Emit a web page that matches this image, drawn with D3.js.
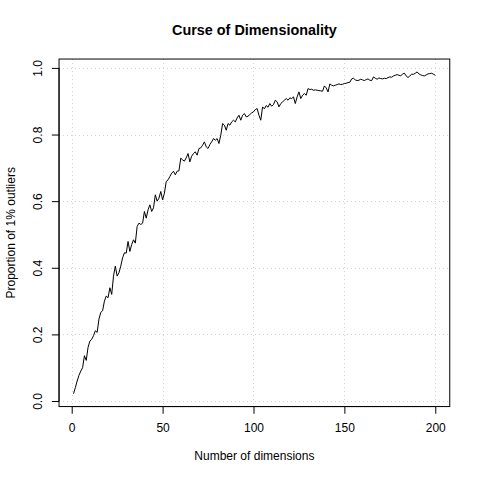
<!DOCTYPE html>
<html>
<head>
<meta charset="utf-8">
<script src="https://cdn.jsdelivr.net/npm/d3@7/dist/d3.min.js"></script>
<style>
  html, body { margin: 0; padding: 0; background: #fff; }
  svg text { font-family: "Liberation Sans", Arial, Helvetica, sans-serif; fill: #000; }
</style>
</head>
<body>
<svg id="chart" width="480" height="480"></svg>
<script>
// ---- data ----
const titleText = "Curse of Dimensionality";
const xLabel = "Number of dimensions";
const yLabel = "Proportion of 1% outliers";
const xTicks = [0, 50, 100, 150, 200];
const yTicks = [0.0, 0.2, 0.4, 0.6, 0.8, 1.0];
const yTickLabels = ["0.0", "0.2", "0.4", "0.6", "0.8", "1.0"];
const proportion = [
  0.022, 0.040, 0.060, 0.077, 0.090, 0.100, 0.136, 0.122, 0.161, 0.180,
  0.185, 0.196, 0.211, 0.206, 0.246, 0.266, 0.271, 0.300, 0.315, 0.310,
  0.340, 0.320, 0.375, 0.405, 0.375, 0.385, 0.405, 0.430, 0.445, 0.444,
  0.479, 0.449, 0.470, 0.484, 0.474, 0.524, 0.534, 0.530, 0.534, 0.569,
  0.549, 0.574, 0.589, 0.569, 0.580, 0.619, 0.600, 0.609, 0.629, 0.604,
  0.624, 0.659, 0.664, 0.674, 0.684, 0.690, 0.679, 0.690, 0.691, 0.729,
  0.724, 0.720, 0.730, 0.743, 0.718, 0.735, 0.743, 0.748, 0.738, 0.758,
  0.760, 0.768, 0.778, 0.763, 0.758, 0.770, 0.778, 0.788, 0.783, 0.788,
  0.773, 0.798, 0.833, 0.828, 0.813, 0.833, 0.828, 0.838, 0.843, 0.838,
  0.850, 0.858, 0.843, 0.858, 0.863, 0.853, 0.855, 0.860, 0.865, 0.868,
  0.875, 0.878, 0.858, 0.843, 0.883, 0.877, 0.887, 0.882, 0.893, 0.885,
  0.890, 0.903, 0.898, 0.883, 0.893, 0.898, 0.903, 0.908, 0.903, 0.910,
  0.908, 0.913, 0.893, 0.913, 0.928, 0.908, 0.918, 0.923, 0.918, 0.938,
  0.935, 0.936, 0.933, 0.934, 0.933, 0.932, 0.931, 0.930, 0.946, 0.940,
  0.928, 0.952, 0.948, 0.946, 0.948, 0.950, 0.952, 0.950, 0.951, 0.953,
  0.954, 0.956, 0.957, 0.967, 0.969, 0.964, 0.962, 0.963, 0.966, 0.964,
  0.962, 0.965, 0.967, 0.963, 0.962, 0.973, 0.969, 0.966, 0.970, 0.968,
  0.967, 0.969, 0.968, 0.971, 0.973, 0.972, 0.976, 0.978, 0.980, 0.978,
  0.976, 0.982, 0.984, 0.976, 0.971, 0.976, 0.981, 0.981, 0.984, 0.988,
  0.982, 0.979, 0.977, 0.976, 0.979, 0.982, 0.983, 0.984, 0.981, 0.978
];
const dims = proportion.map((_, i) => i + 1);

// ---- layout (R base graphics default margins) ----
const W = 480, H = 480, lineH = 14.4;
const pL = 4.1 * lineH, pR = W - 2.1 * lineH, pT = 4.1 * lineH, pB = H - 5.1 * lineH;

const svg = d3.select("#chart");

function rExtend(ext) { const r = ext[1] - ext[0]; return [ext[0] - 0.04 * r, ext[1] + 0.04 * r]; }
const x = d3.scaleLinear().domain(rExtend(d3.extent(dims))).range([pL, pR]);
const y = d3.scaleLinear().domain(rExtend(d3.extent(proportion))).range([pB, pT]);

// grid (dotted lightgray)
const grid = svg.append("g").attr("stroke", "#d3d3d3").attr("stroke-width", 1)
  .attr("stroke-dasharray", "1,3").attr("shape-rendering", "crispEdges");
grid.selectAll("line.vx").data(xTicks).join("line")
  .attr("x1", d => Math.round(x(d)) + 0.5).attr("x2", d => Math.round(x(d)) + 0.5)
  .attr("y1", pT).attr("y2", pB);
grid.selectAll("line.hy").data(yTicks).join("line")
  .attr("y1", d => Math.round(y(d)) + 0.5).attr("y2", d => Math.round(y(d)) + 0.5)
  .attr("x1", pL).attr("x2", pR);

// data line
const line = d3.line().x((d, i) => x(dims[i])).y(d => y(d));
svg.append("path").datum(proportion)
  .attr("d", line).attr("fill", "none").attr("stroke", "#000").attr("stroke-width", 1)
  .attr("stroke-linejoin", "round");

// box
svg.append("rect").attr("x", pL).attr("y", pT).attr("width", pR - pL).attr("height", pB - pT)
  .attr("fill", "none").attr("stroke", "#000").attr("stroke-width", 1);

// x axis
const xAxis = d3.axisBottom(x).tickValues(xTicks).tickSize(7.2).tickFormat(d3.format("d"));
const gx = svg.append("g").attr("transform", `translate(0,${pB})`).call(xAxis);
gx.select(".domain").attr("d", `M${x(xTicks[0])},0H${x(xTicks[xTicks.length - 1])}`);
gx.selectAll(".tick text").attr("font-size", 12).attr("font-family", "Liberation Sans, Arial, sans-serif")
  .attr("y", 25.5).attr("dy", null);

// y axis
const yAxis = d3.axisLeft(y).tickValues(yTicks).tickSize(7.2).tickFormat((d, i) => yTickLabels[i]);
const gy = svg.append("g").attr("transform", `translate(${pL},0)`).call(yAxis);
gy.select(".domain").attr("d", `M0,${y(yTicks[0])}V${y(yTicks[yTicks.length - 1])}`);
gy.selectAll(".tick text").attr("font-size", 12).attr("font-family", "Liberation Sans, Arial, sans-serif")
  .attr("x", null).attr("dy", null).attr("text-anchor", "middle")
  .attr("transform", `translate(${42 - pL},0) rotate(-90)`);
svg.selectAll(".domain, .tick line").attr("stroke", "#000");

// titles
svg.append("text").attr("x", (pL + pR) / 2).attr("y", 35).attr("text-anchor", "middle")
  .attr("font-size", 14.4).attr("font-weight", "bold").text(titleText);
svg.append("text").attr("x", (pL + pR) / 2).attr("y", 460).attr("text-anchor", "middle")
  .attr("font-size", 12).text(xLabel);
svg.append("text").attr("transform", `translate(15,${(pT + pB) / 2}) rotate(-90)`)
  .attr("text-anchor", "middle").attr("font-size", 12).text(yLabel);
</script>
</body>
</html>
